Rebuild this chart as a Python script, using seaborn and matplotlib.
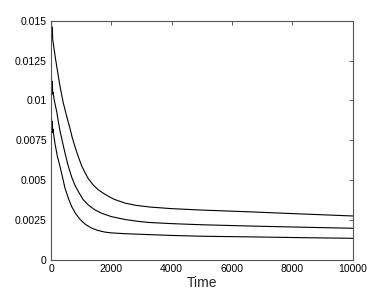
import numpy as np
import pandas as pd
import matplotlib
matplotlib.use("Agg")
import matplotlib.pyplot as plt
import seaborn as sns

# values
time_top = [0, 8, 16, 24, 32, 40, 48, 56, 66, 150, 288, 400, 520, 629, 700, 795,
            900, 1016, 1120, 1235, 1400, 1566, 1720, 1897, 2100, 2450, 2800,
            3278, 4000, 5000, 6589, 8000, 10000]
conc_top = [0.0150, 0.0144, 0.0149, 0.0142, 0.0146, 0.0140, 0.0143, 0.0138, 0.0137,
            0.0126, 0.0110, 0.0099, 0.0090, 0.00825, 0.0077, 0.0071,
            0.0065, 0.0059, 0.0055, 0.0051, 0.0047, 0.0044, 0.0042, 0.00400, 0.00380,
            0.00357, 0.00343, 0.00332, 0.00322, 0.00313, 0.00302, 0.00291, 0.00276]

time_mid = [0, 8, 16, 24, 32, 40, 48, 56, 66, 120, 189, 240, 298, 380, 464, 570,
            685, 790, 904, 1060, 1235, 1450, 1679, 2000, 2450, 2900, 3278, 4000,
            5000, 6600, 8000, 10000]
conc_mid = [0.0116, 0.0110, 0.0115, 0.0108, 0.0112, 0.0106, 0.0109, 0.0104, 0.0105,
            0.0099, 0.0093, 0.0087, 0.0081, 0.0074, 0.0067, 0.0059,
            0.0052, 0.0047, 0.0043, 0.0038, 0.00345, 0.00315, 0.00293, 0.00272,
            0.00254, 0.00242, 0.00235, 0.00228, 0.00221, 0.00213, 0.00207, 0.00199]

time_bot = [0, 8, 16, 24, 32, 40, 48, 56, 66, 100, 132, 210, 298, 380, 464, 570,
            685, 820, 960, 1150, 1347, 1560, 1788, 2000, 2450, 3278, 4000, 5000,
            6600, 8000, 10000]
conc_bot = [0.0090, 0.0085, 0.0089, 0.0083, 0.0087, 0.0081, 0.0084, 0.0080, 0.0082,
            0.0077, 0.0073, 0.0065, 0.00586, 0.0052, 0.0045, 0.0039,
            0.00335, 0.0029, 0.00255, 0.00222, 0.00200, 0.00185, 0.00175, 0.00170,
            0.00165, 0.00159, 0.00154, 0.00149, 0.00145, 0.00141, 0.00136]

x_ticks = [0, 2000, 4000, 6000, 8000, 10000]
y_ticks = [0, 0.0025, 0.005, 0.0075, 0.01, 0.0125, 0.015]
y_labels = ["0", "0.0025", "0.005", "0.0075", "0.01", "0.0125", "0.015"]

sns.set_style("white")
plt.rcParams['font.family'] = ['Liberation Sans', 'DejaVu Sans']

fig = plt.figure(figsize=(3.9, 2.94), dpi=100)
ax = fig.add_axes([0.1308, 0.1156, 0.7736, 0.814])

for t, c in [(time_top, conc_top), (time_mid, conc_mid), (time_bot, conc_bot)]:
    sns.lineplot(x=t, y=c, ax=ax, color="black", linewidth=0.8,
                 estimator=None, sort=False)

ax.set_xlim(0, 10000)
ax.set_ylim(0, 0.015)
ax.set_xticks(x_ticks)
ax.set_xticklabels([str(v) for v in x_ticks])
ax.set_yticks(y_ticks)
ax.set_yticklabels(y_labels)
ax.tick_params(direction="in", length=3, width=0.6, labelsize=7.5, colors="#444444",
               labelcolor="black", top=True, right=True, pad=3)
for s in ax.spines.values():
    s.set_color("#555555")
    s.set_linewidth(0.8)
ax.set_xlabel("Time", fontsize=10, labelpad=1)
ax.set_ylabel("")

fig.savefig("out.png", dpi=100)
